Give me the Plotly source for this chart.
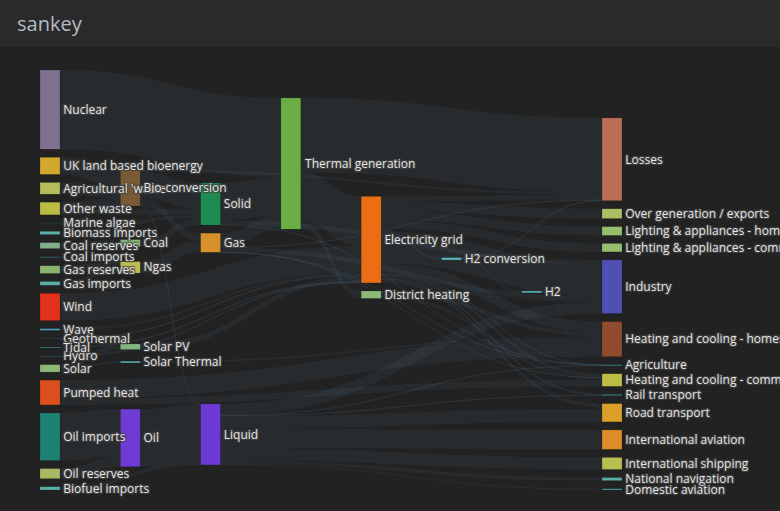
import plotly.graph_objects as go

# nodes, column by column, top to bottom as they appear in the chart
nodes = [
    "Nuclear", "UK land based bioenergy", "Agricultural 'waste'", "Other waste",
    "Marine algae", "Biomass imports", "Coal reserves", "Coal imports",
    "Gas reserves", "Gas imports", "Wind", "Wave", "Geothermal", "Hydro", "Tidal",
    "Solar", "Pumped heat", "Oil imports", "Oil reserves", "Biofuel imports",
    "Bio-conversion", "Coal", "Ngas", "Solar PV", "Solar Thermal", "Oil",
    "Solid", "Gas", "Liquid",
    "Thermal generation",
    "Electricity grid", "District heating",
    "H2 conversion",
    "H2",
    "Losses", "Over generation / exports", "Lighting & appliances - homes",
    "Lighting & appliances - commercial", "Industry", "Heating and cooling - homes",
    "Agriculture", "Heating and cooling - commercial", "Rail transport",
    "Road transport", "International aviation", "International shipping",
    "National navigation", "Domestic aviation",
]

node_colors = [
    "#80708f", "#d4a82f", "#b3bd5a", "#bdbd45",
    "#3a6f7a", "#5bb0a8", "#7fb08a", "#3f6f80",
    "#8cb46e", "#5aafa5", "#e2321e", "#50a0be", "#3a6f7a", "#3a6f7a", "#4a9aa0",
    "#8cb978", "#dc501e", "#1e8273", "#a8b964", "#5ab0a8",
    "#785a37", "#82b478", "#bebe50", "#82b482", "#5aafb0", "#6e3cd2",
    "#1e8c50", "#d7912a", "#6c3bd7",
    "#69af46",
    "#eb6e14", "#8cb978",
    "#5aafb5",
    "#5aafb5",
    "#b96e55", "#aabe64", "#96be6e",
    "#96be6e", "#5050b4", "#914b2d",
    "#4a9aa0", "#bebe46", "#4a9aa0",
    "#daa028", "#dc8c28", "#b9be50",
    "#5ab0a8", "#4a9aa0",
]

sources = [
    "Nuclear", "Thermal generation", "Oil", "Thermal generation", "Oil imports",
    "Solid", "Electricity grid", "Wind", "Bio-conversion", "Liquid", "Pumped heat",
    "UK land based bioenergy", "Gas", "Liquid", "Liquid", "Agricultural 'waste'",
    "Ngas", "Liquid", "Electricity grid", "Oil reserves", "Electricity grid",
    "Electricity grid", "Electricity grid", "Gas reserves", "Bio-conversion",
    "Thermal generation", "Other waste", "Coal", "Pumped heat", "Coal reserves",
    "Solar", "Solar PV", "Electricity grid", "Other waste", "Gas", "Solid",
    "District heating", "Electricity grid", "Gas imports", "Electricity grid",
    "Biofuel imports", "Biomass imports", "Liquid", "Electricity grid",
    "Bio-conversion", "District heating", "H2 conversion", "H2", "Solar",
    "Solar Thermal", "Wave", "Liquid", "Coal imports", "District heating", "Tidal",
    "Electricity grid", "Geothermal", "Hydro", "H2 conversion", "Liquid",
    "Electricity grid", "Marine algae", "Liquid", "Gas", "Gas", "Solid",
    "Bio-conversion", "Gas",
]
targets = [
    "Thermal generation", "Losses", "Liquid", "Electricity grid", "Oil",
    "Thermal generation", "Industry", "Electricity grid", "Solid",
    "International aviation", "Heating and cooling - homes", "Bio-conversion",
    "Thermal generation", "Road transport", "International shipping",
    "Bio-conversion", "Gas", "Industry", "Heating and cooling - homes", "Oil",
    "Over generation / exports", "Lighting & appliances - homes",
    "Lighting & appliances - commercial", "Ngas", "Gas", "District heating",
    "Bio-conversion", "Solid", "Heating and cooling - commercial", "Coal",
    "Solar PV", "Electricity grid", "Losses", "Solid", "Industry", "Industry",
    "Heating and cooling - homes", "Heating and cooling - commercial", "Ngas",
    "Road transport", "Liquid", "Solid", "National navigation", "H2 conversion",
    "Losses", "Heating and cooling - commercial", "H2", "Road transport",
    "Solar Thermal", "Heating and cooling - homes", "Electricity grid",
    "Domestic aviation", "Coal", "Industry", "Electricity grid", "Rail transport",
    "Electricity grid", "Electricity grid", "Losses", "Rail transport",
    "Agriculture", "Bio-conversion", "Agriculture", "Agriculture", "Losses",
    "Agriculture", "Liquid", "Heating and cooling - commercial",
]
values = [
    839.978, 787.129, 611.99, 525.531, 504.287, 400.12, 342.165, 289.366, 280.322,
    206.267, 193.026, 182.01, 151.891, 135.835, 128.69, 124.729, 122.952, 121.066,
    113.726, 107.703, 104.453, 93.494, 90.008, 82.233, 81.144, 79.329, 77.81,
    75.571, 70.672, 63.965, 59.901, 59.901, 56.691, 56.587, 48.58, 46.477, 46.184,
    40.858, 40.719, 37.797, 35, 35, 33.218, 27.14, 26.862, 22.505, 20.897, 20.897,
    19.263, 19.263, 19.013, 14.458, 11.606, 10.639, 9.452, 7.863, 7.013, 6.995,
    6.242, 4.413, 4.412, 4.375, 3.64, 2.096, 1.401, 0.882, 0.597, 0.129,
]

WIDTH, HEIGHT = 780, 511
MARGIN = dict(l=40, r=158, t=70, b=21)
PAD, THICK, ITERATIONS = 8, 20, 32


def sankey_layout():
    # justified columns + relaxation (32 passes) of the node positions
    links = list(zip(sources, targets, values))
    outs = {n: [(t, v) for s, t, v in links if s == n] for n in nodes}
    ins = {n: [(s, v) for s, t, v in links if t == n] for n in nodes}
    value = {n: max(sum(v for _, v in outs[n]), sum(v for _, v in ins[n])) for n in nodes}

    depth, remaining, x = {}, list(nodes), 0
    while remaining:
        nxt = []
        for n in remaining:
            depth[n] = x
            for t, _ in outs[n]:
                if t not in nxt:
                    nxt.append(t)
        remaining, x = nxt, x + 1
    ncols = x
    col = {n: depth[n] if outs[n] else ncols - 1 for n in nodes}
    columns = [[n for n in nodes if col[n] == c] for c in range(ncols)]

    h = HEIGHT - MARGIN['t'] - MARGIN['b']
    ky = min((h - (len(c) - 1) * PAD) / sum(value[n] for n in c) for c in columns)
    dy = {n: value[n] * ky for n in nodes}
    y = {}
    for c in columns:
        for i, n in enumerate(c):
            y[n] = float(i)

    def center(n):
        return y[n] + dy[n] / 2

    def resolve():
        for c in columns:
            c.sort(key=lambda n: y[n])
            y0 = 0.0
            for n in c:
                if y0 - y[n] > 0:
                    y[n] = y0
                y0 = y[n] + dy[n] + PAD
            over = y0 - PAD - h
            if over > 0:
                y[c[-1]] -= over
                y0 = y[c[-1]]
                for n in reversed(c[:-1]):
                    d = y[n] + dy[n] + PAD - y0
                    if d > 0:
                        y[n] -= d
                    y0 = y[n]

    def relax(cols, nbrs, alpha):
        for c in cols:
            for n in c:
                if nbrs[n]:
                    target = sum(center(m) * v for m, v in nbrs[n]) / sum(v for _, v in nbrs[n])
                    y[n] += (target - center(n)) * alpha

    resolve()
    alpha = 1.0
    for _ in range(ITERATIONS):
        alpha *= 0.99
        relax(columns[::-1], outs, alpha)
        resolve()
        relax(columns, ins, alpha)
        resolve()

    w = WIDTH - MARGIN['l'] - MARGIN['r']
    xs = [(col[n] * (w - THICK) / (ncols - 1) + THICK / 2) / w for n in nodes]
    ys = [center(n) / h for n in nodes]
    return xs, ys


node_x, node_y = sankey_layout()
index = {name: i for i, name in enumerate(nodes)}

fig = go.Figure(go.Sankey(
    arrangement='fixed',
    valueformat='.0f',
    node=dict(
        label=nodes,
        color=node_colors,
        x=node_x,
        y=node_y,
        pad=PAD,
        thickness=THICK,
        line=dict(color='rgba(0,0,0,0.35)', width=0.5)),
    link=dict(
        source=[index[s] for s in sources],
        target=[index[t] for t in targets],
        value=values,
        color='rgba(90, 130, 160, 0.10)'),
    textfont=dict(family='Open Sans', size=12, color='#e6e6e6')))

fig.add_shape(type='rect', xref='paper', yref='paper',
              x0=-1, x1=2, y0=1 + 23 / 420, y1=1.5,
              fillcolor='#2a2a2a', line_width=0, layer='below')

fig.update_layout(
    title=dict(text='sankey', x=17 / WIDTH, xanchor='left', y=1 - 24 / HEIGHT, yanchor='middle',
               font=dict(family='Open Sans', size=20, color='#b4bcc4')),
    font=dict(family='Open Sans', color='#e6e6e6'),
    paper_bgcolor='#222222',
    width=WIDTH, height=HEIGHT,
    margin=MARGIN)

# page without body margin; every node label right of its node and above all nodes
post = """
document.body.style.margin = '0';
document.body.style.overflow = 'hidden';
var gd = document.getElementById('{plot_id}');
function fixLabels() {
    gd.querySelectorAll('.label-overlay').forEach(function(g) { g.remove(); });
    gd.querySelectorAll('.sankey-node-set').forEach(function(set) {
        var overlay = document.createElementNS('http://www.w3.org/2000/svg', 'g');
        overlay.setAttribute('class', 'label-overlay');
        overlay.style.pointerEvents = 'none';
        set.querySelectorAll('.sankey-node').forEach(function(nd) {
            var t = nd.querySelector('.node-label');
            if (!t) return;
            var tr = t.getAttribute('transform') || '';
            var anchor = t.getAttribute('text-anchor') || t.style.textAnchor;
            var c = t.cloneNode(true);
            if (anchor === 'end') {
                var rect = nd.querySelector('.node-rect');
                var w = rect ? parseFloat(rect.getAttribute('width')) : 20;
                var m = /translate\\(([-\\d.e]+)[ ,]+([-\\d.e]+)\\)/.exec(tr);
                if (m) tr = 'translate(' + (w - parseFloat(m[1])) + ',' + m[2] + ')';
                c.setAttribute('text-anchor', 'start');
                c.style.textAnchor = 'start';
            }
            c.setAttribute('transform', (nd.getAttribute('transform') || '') + ' ' + tr);
            c.style.display = '';
            t.style.display = 'none';
            overlay.appendChild(c);
        });
        set.appendChild(overlay);
    });
}
fixLabels();
setTimeout(fixLabels, 700);
"""

fig.write_html("out.html", post_script=post, config={'displayModeBar': False})
